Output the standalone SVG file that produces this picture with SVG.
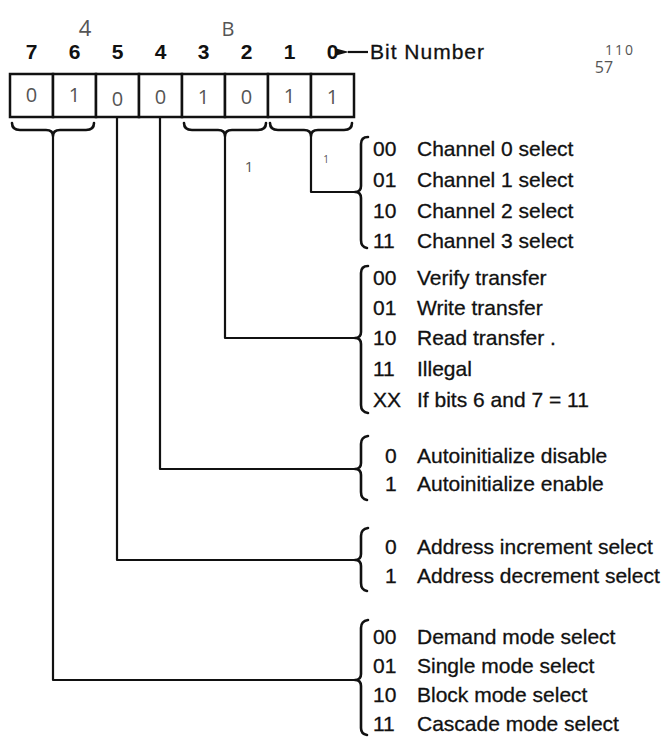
<svg xmlns="http://www.w3.org/2000/svg" width="661" height="737" viewBox="0 0 661 737">
<style>
.t { font-family: "Liberation Sans", Arial, sans-serif; font-size: 21px; fill: #111; stroke: #111; stroke-width: 0.3; }
.b { font-weight: bold; stroke-width: 0; }
.c { text-anchor: middle; }
.hw { font-family: "Open Sans", "DejaVu Sans", sans-serif; font-weight: 400; fill: #555; }
.ln { fill: none; stroke: #111; stroke-width: 2.2; stroke-linejoin: round; }
.br { fill: none; stroke: #111; stroke-width: 2.6; stroke-linejoin: round; stroke-linecap: round; }
.box { fill: #fff; stroke: #111; stroke-width: 2.5; }
</style>
<defs>
<marker id="ah" markerWidth="13" markerHeight="7" refX="1" refY="3.5" orient="auto" markerUnits="userSpaceOnUse">
<path d="M13,0 L0,3.5 L13,7 Z" fill="#111"/>
</marker>
</defs>
<rect width="661" height="737" fill="#fff"/>

<g id="annotations">
<text class="hw" x="85" y="36" font-size="22" text-anchor="middle" fill="#777">4</text>
<text class="hw" x="228" y="36" font-size="20" text-anchor="middle" fill="#777">B</text>
<text class="hw" x="620" y="55" font-size="14" text-anchor="middle" fill="#999" letter-spacing="2">110</text>
<text class="hw" x="604" y="73" font-size="16" text-anchor="middle" fill="#888">57</text>
<text class="hw" x="249" y="172" font-size="15" text-anchor="middle" fill="#999">1</text>
<text class="hw" x="326" y="163" font-size="10" text-anchor="middle" fill="#aaa">1</text>
</g>

<g id="bit-numbers">
<text class="t b c" x="31.5" y="59">7</text>
<text class="t b c" x="74.5" y="59">6</text>
<text class="t b c" x="117.5" y="59">5</text>
<text class="t b c" x="160.5" y="59">4</text>
<text class="t b c" x="203.5" y="59">3</text>
<text class="t b c" x="246.5" y="59">2</text>
<text class="t b c" x="289.5" y="59">1</text>
<text class="t b c" x="332.5" y="59">0</text>
<line class="ln" x1="368" y1="52" x2="348" y2="52" marker-end="url(#ah)"/>
<text class="t" x="370" y="59" letter-spacing="1">Bit Number</text>
</g>

<g id="register">
<rect class="box" x="10" y="74" width="43" height="43"/>
<rect class="box" x="53" y="74" width="43" height="43"/>
<rect class="box" x="96" y="74" width="43" height="43"/>
<rect class="box" x="139" y="74" width="43" height="43"/>
<rect class="box" x="182" y="74" width="43" height="43"/>
<rect class="box" x="225" y="74" width="43" height="43"/>
<rect class="box" x="268" y="74" width="43" height="43"/>
<rect class="box" x="311" y="74" width="43" height="43"/>
<g class="hw" font-size="20" text-anchor="middle">
<text x="31.5" y="102">0</text>
<text x="74.5" y="102">1</text>
<text x="117.5" y="106">0</text>
<text x="160.5" y="104">0</text>
<text x="203.5" y="104">1</text>
<text x="246.5" y="104">0</text>
<text x="289.5" y="103">1</text>
<text x="332.5" y="104">1</text>
</g>
</g>

<g id="connectors">
<path class="br" d="M12,123 Q12,130 20,130 L46,130 Q53,130 53,136 Q53,130 60,130 L86,130 Q94,130 94,123"/>
<path class="br" d="M184,123 Q184,130 192,130 L218,130 Q225,130 225,136 Q225,130 232,130 L258,130 Q266,130 266,123"/>
<path class="br" d="M270,123 Q270,130 278,130 L304,130 Q311,130 311,136 Q311,130 318,130 L344,130 Q352,130 352,123"/>
<polyline class="ln" points="311,136 311,192 355,192"/>
<polyline class="ln" points="225,136 225,338 355,338"/>
<polyline class="ln" points="160,117 160,469 355,469"/>
<polyline class="ln" points="117,117 117,560 355,560"/>
<polyline class="ln" points="53,136 53,680 355,680"/>
</g>

<g id="channel-select">
<path class="br" d="M368,137 Q361,137 361,144 L361,186 Q361,192 355,192 Q361,192 361,198 L361,240 Q361,247 367,248"/>
<text class="t" x="373" y="155.5">00</text><text class="t" x="417" y="155.5">Channel 0 select</text>
<text class="t" x="373" y="186.5">01</text><text class="t" x="417" y="186.5">Channel 1 select</text>
<text class="t" x="373" y="217.5">10</text><text class="t" x="417" y="217.5">Channel 2 select</text>
<text class="t" x="373" y="247.5">11</text><text class="t" x="417" y="247.5">Channel 3 select</text>
</g>

<g id="transfer-type">
<path class="br" d="M368,266 Q361,266 361,273 L361,332 Q361,338 355,338 Q361,338 361,344 L361,405 Q361,412 368,413"/>
<text class="t" x="373" y="284.5">00</text><text class="t" x="417" y="284.5">Verify transfer</text>
<text class="t" x="373" y="314.5">01</text><text class="t" x="417" y="314.5">Write transfer</text>
<text class="t" x="373" y="344.5">10</text><text class="t" x="417" y="344.5">Read transfer .</text>
<text class="t" x="373" y="375.5">11</text><text class="t" x="417" y="375.5">Illegal</text>
<text class="t" x="373" y="406.5">XX</text><text class="t" x="417" y="406.5">If bits 6 and 7 = 11</text>
</g>

<g id="autoinitialize">
<path class="br" d="M368,436 Q361,437 361,444 L361,463 Q361,469 355,469 Q361,469 361,475 L361,492 Q361,499 367,500"/>
<text class="t" x="385" y="462.5">0</text><text class="t" x="417" y="462.5">Autoinitialize disable</text>
<text class="t" x="385" y="490.5">1</text><text class="t" x="417" y="490.5">Autoinitialize enable</text>
</g>

<g id="address-direction">
<path class="br" d="M368,528 Q361,529 361,536 L361,554 Q361,560 355,560 Q361,560 361,566 L361,583 Q361,590 367,591"/>
<text class="t" x="385" y="553.5">0</text><text class="t" x="417" y="553.5">Address increment select</text>
<text class="t" x="385" y="582.5">1</text><text class="t" x="417" y="582.5">Address decrement select</text>
</g>

<g id="mode-select">
<path class="br" d="M368,620 Q361,621 361,628 L361,674 Q361,680 355,680 Q361,680 361,686 L361,728 Q361,734 367,735"/>
<text class="t" x="373" y="643.5">00</text><text class="t" x="417" y="643.5">Demand mode select</text>
<text class="t" x="373" y="672.5">01</text><text class="t" x="417" y="672.5">Single mode select</text>
<text class="t" x="373" y="701.5">10</text><text class="t" x="417" y="701.5">Block mode select</text>
<text class="t" x="373" y="730.5">11</text><text class="t" x="417" y="730.5">Cascade mode select</text>
</g>
</svg>
